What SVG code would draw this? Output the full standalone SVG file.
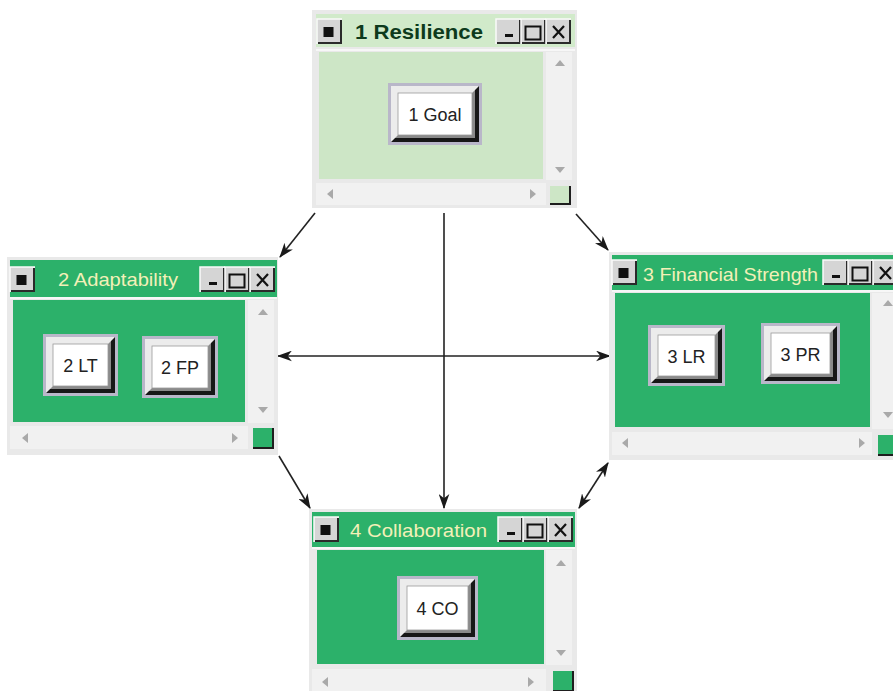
<svg xmlns="http://www.w3.org/2000/svg" xmlns:xlink="http://www.w3.org/1999/xlink" width="893" height="691" viewBox="0 0 893 691">
<style>
.frame{fill:#e9e9e9}
.track{fill:#f1f1f1}
.lg{fill:#cde6c6}
.lgt{fill:#d1eaca}
.g{fill:#2cb16a}
.sa{fill:#a9a9a9}
.sb{fill:none;stroke:#1e1e1e;stroke-width:2}
.conn{stroke:#222;stroke-width:1.6;fill:none}
.ttl{font-family:"Liberation Sans",Arial,sans-serif;font-size:19px;fill:#f3f0b8}
.ttl1{font-family:"Liberation Sans",Arial,sans-serif;font-size:20px;font-weight:bold;fill:#0d3a1c}
.bt{font-family:"Liberation Sans",Arial,sans-serif;font-size:18px;fill:#222;text-anchor:middle}
.bo{fill:#b9b7c9}
.bd{fill:#171717}
.bm{fill:#8a8a8a}
.bl{fill:#ececec}
.bf{fill:#fff;stroke:#9a9a9a;stroke-width:0.8}
</style>
<defs>
<marker id="ah" viewBox="0 0 14 10" refX="13" refY="5" markerWidth="15" markerHeight="11" markerUnits="userSpaceOnUse" orient="auto-start-reverse">
<path d="M0,0 L14,5 L0,10 L4,5 Z" fill="#1a1a1a"/>
</marker>
<g id="btn1">
<rect width="25" height="25" fill="#d5d5d5"/>
<path d="M0,25 V0 H25" fill="none" stroke="#fafafa" stroke-width="1.5"/>
<path d="M1,24 H24 V1" fill="none" stroke="#2a2a2a" stroke-width="2"/>
</g>
<g id="tb">
<use xlink:href="#btn1"/>
<use xlink:href="#btn1" x="25"/>
<use xlink:href="#btn1" x="50"/>
<rect x="9" y="15" width="8" height="3" fill="#111"/>
<rect x="29.5" y="7.5" width="15" height="13" fill="none" stroke="#111" stroke-width="2"/>
<path d="M57,7 L68,19 M68,7 L57,19" stroke="#111" stroke-width="2.2" fill="none"/>
</g>
<g id="ib">
<use xlink:href="#btn1"/>
<rect x="6.5" y="8" width="10" height="10" fill="#111"/>
</g>
</defs>

<g id="connectors">
<line class="conn" x1="315" y1="213" x2="280" y2="257" marker-end="url(#ah)"/>
<line class="conn" x1="576" y1="214" x2="608" y2="250" marker-end="url(#ah)"/>
<line class="conn" x1="444" y1="213" x2="444" y2="508" marker-end="url(#ah)"/>
<line class="conn" x1="278" y1="356" x2="610" y2="356" marker-start="url(#ah)" marker-end="url(#ah)"/>
<line class="conn" x1="279" y1="456" x2="310" y2="508" marker-end="url(#ah)"/>
<line class="conn" x1="608" y1="463" x2="579" y2="508" marker-start="url(#ah)" marker-end="url(#ah)"/>
</g>

<g id="w1">
<rect class="frame" x="312" y="10" width="265" height="198"/>
<rect class="lgt" x="316" y="14" width="259" height="33"/>
<use xlink:href="#ib" x="317" y="19"/>
<text class="ttl1" x="355" y="39" textLength="128" lengthAdjust="spacingAndGlyphs">1 Resilience</text>
<use xlink:href="#tb" x="496" y="19"/>
<rect x="316" y="49" width="259" height="2" fill="#f7f7f7"/>
<rect class="lg" x="319" y="52" width="224" height="127"/>
<rect class="track" x="546" y="52" width="26" height="128"/>
<polygon class="sa" points="555,66 565,66 560,60"/>
<polygon class="sa" points="555,167 565,167 560,173"/>
<rect class="track" x="316" y="183" width="230" height="22"/>
<polygon class="sa" points="333,189 333,199 327,194"/>
<polygon class="sa" points="530,189 530,199 536,194"/>
<rect class="lg" x="550" y="186" width="20" height="18"/>
<path class="sb" d="M550,204 H570 V186"/>
<g id="n1goal">
<rect class="bo" x="388" y="83" width="94" height="62"/>
<rect class="bd" x="391" y="86" width="88" height="56"/>
<rect class="bm" x="395" y="90" width="80" height="48"/>
<polygon class="bl" points="391,86 479,86 472,93 398,93 398,135 391,142"/>
<rect class="bf" x="398" y="93" width="74" height="42"/>
<text class="bt" x="435" y="121">1 Goal</text>
</g>
</g>

<g id="w2">
<rect class="frame" x="7" y="257" width="271" height="198"/>
<rect class="g" x="10" y="260" width="267" height="37"/>
<use xlink:href="#ib" x="10" y="267"/>
<text class="ttl" x="58" y="286" textLength="120" lengthAdjust="spacingAndGlyphs">2 Adaptability</text>
<use xlink:href="#tb" x="200" y="267"/>
<rect x="10" y="297" width="267" height="2" fill="#f7f7f7"/>
<rect class="g" x="13" y="300" width="232" height="122"/>
<rect class="track" x="248" y="300" width="26" height="123"/>
<polygon class="sa" points="258,315 268,315 263,309"/>
<polygon class="sa" points="258,407 268,407 263,413"/>
<rect class="track" x="10" y="426" width="238" height="23"/>
<polygon class="sa" points="28,433 28,443 22,438"/>
<polygon class="sa" points="232,433 232,443 238,438"/>
<rect class="g" x="253" y="428" width="20" height="20"/>
<path class="sb" d="M253,448 H273 V428"/>
<g id="n2lt">
<rect class="bo" x="43" y="334" width="75" height="62"/>
<rect class="bd" x="46" y="337" width="69" height="56"/>
<rect class="bm" x="50" y="341" width="61" height="48"/>
<polygon class="bl" points="46,337 115,337 108,344 53,344 53,386 46,393"/>
<rect class="bf" x="53" y="344" width="55" height="42"/>
<text class="bt" x="80.5" y="372">2 LT</text>
</g>
<g id="n2fp">
<rect class="bo" x="142" y="336" width="76" height="62"/>
<rect class="bd" x="145" y="339" width="70" height="56"/>
<rect class="bm" x="149" y="343" width="62" height="48"/>
<polygon class="bl" points="145,339 215,339 208,346 152,346 152,388 145,395"/>
<rect class="bf" x="152" y="346" width="56" height="42"/>
<text class="bt" x="180" y="374">2 FP</text>
</g>
</g>

<g id="w3">
<rect class="frame" x="609" y="252" width="290" height="208"/>
<rect class="g" x="612" y="255" width="290" height="35"/>
<use xlink:href="#ib" x="612" y="260"/>
<text class="ttl" x="643" y="281" textLength="175" lengthAdjust="spacingAndGlyphs">3 Financial Strength</text>
<use xlink:href="#tb" x="823" y="260"/>
<rect x="612" y="290" width="290" height="2" fill="#f7f7f7"/>
<rect class="g" x="615" y="293" width="255" height="134"/>
<rect class="track" x="872" y="293" width="26" height="136"/>
<polygon class="sa" points="883,306 893,306 888,300"/>
<polygon class="sa" points="883,412 893,412 888,418"/>
<rect class="track" x="612" y="432" width="260" height="23"/>
<polygon class="sa" points="628,438 628,448 622,443"/>
<polygon class="sa" points="859,438 859,448 865,443"/>
<rect class="g" x="878" y="435" width="20" height="20"/>
<path class="sb" d="M878,455 H898 V435"/>
<g id="n3lr">
<rect class="bo" x="648" y="325" width="77" height="61"/>
<rect class="bd" x="651" y="328" width="71" height="55"/>
<rect class="bm" x="655" y="332" width="63" height="47"/>
<polygon class="bl" points="651,328 722,328 715,335 658,335 658,376 651,383"/>
<rect class="bf" x="658" y="335" width="57" height="41"/>
<text class="bt" x="686.5" y="363">3 LR</text>
</g>
<g id="n3pr">
<rect class="bo" x="761" y="323" width="79" height="61"/>
<rect class="bd" x="764" y="326" width="73" height="55"/>
<rect class="bm" x="768" y="330" width="65" height="47"/>
<polygon class="bl" points="764,326 837,326 830,333 771,333 771,374 764,381"/>
<rect class="bf" x="771" y="333" width="59" height="41"/>
<text class="bt" x="800.5" y="361">3 PR</text>
</g>
</g>

<g id="w4">
<rect class="frame" x="309" y="509" width="268" height="185"/>
<rect class="g" x="312" y="512" width="263" height="35"/>
<use xlink:href="#ib" x="314" y="517"/>
<text class="ttl" x="350" y="537" textLength="137" lengthAdjust="spacingAndGlyphs">4 Collaboration</text>
<use xlink:href="#tb" x="498" y="517"/>
<rect x="312" y="547" width="263" height="2" fill="#f7f7f7"/>
<rect class="g" x="317" y="550" width="227" height="114"/>
<rect class="track" x="546" y="550" width="26" height="115"/>
<polygon class="sa" points="556,566 566,566 561,560"/>
<polygon class="sa" points="556,650 566,650 561,656"/>
<rect class="track" x="312" y="669" width="234" height="23"/>
<polygon class="sa" points="328,677 328,687 322,682"/>
<polygon class="sa" points="528,677 528,687 534,682"/>
<rect class="g" x="553" y="671" width="20" height="20"/>
<path class="sb" d="M553,691 H573 V671"/>
<g id="n4co">
<rect class="bo" x="397" y="576" width="81" height="64"/>
<rect class="bd" x="400" y="579" width="75" height="58"/>
<rect class="bm" x="404" y="583" width="67" height="50"/>
<polygon class="bl" points="400,579 475,579 468,586 407,586 407,630 400,637"/>
<rect class="bf" x="407" y="586" width="61" height="44"/>
<text class="bt" x="437.5" y="615">4 CO</text>
</g>
</g>
</svg>
